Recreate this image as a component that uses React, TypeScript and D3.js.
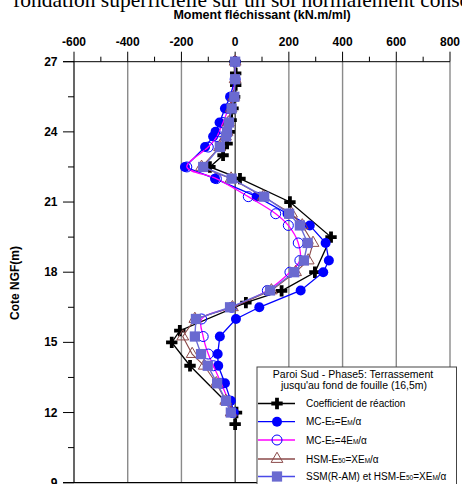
import React, { useEffect, useRef } from 'react';
import * as d3 from 'd3';

// x ticks (bending moment, kN.m/ml) and y ticks (elevation NGF, m)
const xTicks = [-600, -400, -200, 0, 200, 400, 600, 800];
const xMinor = [-500, -300, -100, 100, 300, 500, 700];
const yTicks = [27, 24, 21, 18, 15, 12, 9];
const yMinor = [25.5, 22.5, 19.5, 16.5, 13.5, 10.5];

// Coefficient de réaction
const coefDepth = [27, 26.5, 26, 25.5, 25, 24.5, 24, 23.5, 23, 22.5, 22, 21, 19.5, 18, 17.2, 16.7, 15.5, 15, 14, 12, 11.5];
const coefMoment = [0, 2, 2, -2, -8, -15, -22, -30, -45, -94, 18, 204, 357, 297, 173, 40, -206, -236, -168, 5, 0];

// depths shared by the finite element runs
const feDepth = [27, 26.25, 25.5, 25, 24.4, 24, 23.8, 23.35, 22.5, 22, 21.23, 20.5, 20, 19.25, 18.5, 18, 17.22, 16.5, 16, 15.25, 14.5, 14, 13.25, 12.5, 12];
const mcMoment = [0, 0, -19, -38, -58, -73, -82, -112, -187, -75, 80, 195, 278, 337, 349, 328, 244, 90, 3, -57, -65, -63, -38, -16, -5];
const mc4Moment = [0, 0, -10, -25, -45, -60, -68, -100, -180, -70, 49, 151, 198, 235, 241, 204, 120, -13, -125, -119, -100, -81, -52, -25, -10];
const hsmMoment = [0, 0, -5, -15, -25, -30, -36, -58, -125, -15, 105, 210, 250, 290, 272, 225, 135, -10, -150, -195, -160, -115, -70, -35, -15];
const ssmMoment = [0, 0, -3, -13, -23, -30, -34, -57, -119, -13, 108, 201, 241, 270, 256, 220, 130, -19, -146, -150, -127, -102, -67, -34, -16];

const W = 462, H = 484;

function App() {
  const ref = useRef<SVGSVGElement>(null);

  useEffect(() => {
    const svg = d3.select(ref.current);
    svg.selectAll('*').remove();

    const x = d3.scaleLinear().domain([-600, 800]).range([74, 450]);
    const y = d3.scaleLinear().domain([9, 27]).range([482.7, 61.7]);
    const sans = 'Liberation Sans, Arial, sans-serif';

    // cropped line of the surrounding document
    svg.append('text')
      .attr('x', 13).attr('y', 7)
      .style('font-family', 'Liberation Serif, Times New Roman, serif')
      .style('font-size', '21.5px')
      .text('fondation superficielle sur un sol normalement consolidé');

    svg.append('text')
      .attr('x', 262).attr('y', 18.5)
      .attr('text-anchor', 'middle')
      .style('font-family', sans).style('font-size', '12.5px').style('font-weight', 'bold')
      .text('Moment fléchissant (kN.m/ml)');

    // grid
    svg.append('g').selectAll('line').data(xTicks.filter(d => d !== 0 && d !== -600)).enter()
      .append('line')
      .attr('x1', d => x(d)).attr('x2', d => x(d))
      .attr('y1', y(27)).attr('y2', y(9))
      .style('stroke', '#8a8a8a').style('stroke-width', 1.4);
    svg.append('line')
      .attr('x1', x(0)).attr('x2', x(0)).attr('y1', y(27)).attr('y2', y(9))
      .style('stroke', '#000').style('stroke-width', 1);

    // top axis
    svg.append('line')
      .attr('x1', 63).attr('x2', x(800)).attr('y1', y(27)).attr('y2', y(27))
      .style('stroke', '#000').style('stroke-width', 1);
    svg.append('g').selectAll('line').data(xTicks).enter()
      .append('line')
      .attr('x1', d => x(d)).attr('x2', d => x(d))
      .attr('y1', y(27) - 10).attr('y2', y(27))
      .style('stroke', '#000').style('stroke-width', 1);
    svg.append('g').selectAll('line').data(xMinor).enter()
      .append('line')
      .attr('x1', d => x(d)).attr('x2', d => x(d))
      .attr('y1', y(27) - 5).attr('y2', y(27))
      .style('stroke', '#000').style('stroke-width', 1);
    svg.append('g').selectAll('text').data(xTicks).enter()
      .append('text')
      .attr('x', d => x(d)).attr('y', 45.5)
      .attr('text-anchor', 'middle')
      .style('font-family', sans).style('font-size', '12px').style('font-weight', 'bold')
      .text(d => d);

    // left axis
    svg.append('line')
      .attr('x1', x(-600)).attr('x2', x(-600)).attr('y1', y(27)).attr('y2', y(9))
      .style('stroke', '#000').style('stroke-width', 1.2);
    svg.append('line')
      .attr('x1', 63).attr('x2', x(800)).attr('y1', y(9)).attr('y2', y(9))
      .style('stroke', '#000').style('stroke-width', 1.2);
    svg.append('g').selectAll('line').data(yTicks).enter()
      .append('line')
      .attr('x1', 63).attr('x2', x(-600))
      .attr('y1', d => y(d)).attr('y2', d => y(d))
      .style('stroke', '#000').style('stroke-width', 1);
    svg.append('g').selectAll('line').data(yMinor).enter()
      .append('line')
      .attr('x1', 68).attr('x2', x(-600))
      .attr('y1', d => y(d)).attr('y2', d => y(d))
      .style('stroke', '#000').style('stroke-width', 1);
    svg.append('g').selectAll('text').data(yTicks).enter()
      .append('text')
      .attr('x', 57.5).attr('y', d => y(d) + 4)
      .attr('text-anchor', 'end')
      .style('font-family', sans).style('font-size', '12px').style('font-weight', 'bold')
      .text(d => d);
    svg.append('text')
      .attr('transform', 'translate(19,283) rotate(-90)')
      .attr('text-anchor', 'middle')
      .style('font-family', sans).style('font-size', '12px').style('font-weight', 'bold')
      .text('Cote NGF(m)');

    // series
    const series = [
      { name: 'coef', depth: coefDepth, vals: coefMoment, line: '#000', lw: 1.3, marker: 'plus' },
      { name: 'mc', depth: feDepth, vals: mcMoment, line: '#0000ff', lw: 1.3, marker: 'dot' },
      { name: 'mc4', depth: feDepth, vals: mc4Moment, line: '#ff00ff', lw: 1.3, marker: 'ring' },
      { name: 'hsm', depth: feDepth, vals: hsmMoment, line: '#8b4a4a', lw: 1.1, marker: 'tri' },
      { name: 'ssm', depth: feDepth, vals: ssmMoment, line: '#6a6ad6', lw: 1.4, marker: 'square' },
    ];

    const line = d3.line<[number, number]>()
      .x(d => x(d[1]))
      .y(d => y(d[0]));

    function drawMarker(g: any, kind: string, cx: number, cy: number) {
      if (kind === 'plus') {
        g.append('path').attr('d', d3.symbol().type(d3.symbolCross).size(72)())
          .attr('transform', `translate(${cx},${cy})`).style('fill', '#000');
      } else if (kind === 'dot') {
        g.append('circle').attr('cx', cx).attr('cy', cy).attr('r', 5).style('fill', '#0000ff');
      } else if (kind === 'ring') {
        g.append('circle').attr('cx', cx).attr('cy', cy).attr('r', 5)
          .style('fill', 'none').style('stroke', '#0000ff').style('stroke-width', 1);
      } else if (kind === 'tri') {
        g.append('path').attr('d', d3.symbol().type(d3.symbolTriangle).size(60)())
          .attr('transform', `translate(${cx},${cy})`)
          .style('fill', 'none').style('stroke', '#8b4a4a').style('stroke-width', 1);
      } else {
        g.append('path').attr('d', d3.symbol().type(d3.symbolSquare).size(105)())
          .attr('transform', `translate(${cx},${cy})`).style('fill', '#6a6ad0');
      }
    }

    series.forEach(s => {
      const pts: [number, number][] = s.depth.map((d, i) => [d, s.vals[i]]);
      const g = svg.append('g');
      g.append('path').attr('d', s.name === 'mc4' ? line.curve(d3.curveCatmullRom)(pts) : line.curve(d3.curveLinear)(pts))
        .style('fill', 'none').style('stroke', s.line).style('stroke-width', s.lw);
      pts.forEach(p => drawMarker(g, s.marker, x(p[1]), y(p[0])));
    });

    // legend
    const lg = svg.append('g');
    lg.append('rect').attr('x', 257).attr('y', 367).attr('width', 199.5).attr('height', 125)
      .style('fill', '#fff').style('stroke', '#444').style('stroke-width', 1);
    lg.append('text').attr('x', 353).attr('y', 377.5).attr('text-anchor', 'middle')
      .style('font-family', sans).style('font-size', '10.5px')
      .text('Paroi Sud - Phase5: Terrassement');
    lg.append('text').attr('x', 354).attr('y', 389).attr('text-anchor', 'middle')
      .style('font-family', sans).style('font-size', '10.5px')
      .text("jusqu'au fond de fouille (16,5m)");

    const labels: [string, string, string, string, string][] = [
      ['Coefficient de réaction', '', '', '', ''],
      ['MC-E', 's', '=E', 'M', '/α'],
      ['MC-E', 's', '=4E', 'M', '/α'],
      ['HSM-E', '50', '=XE', 'M', '/α'],
      ['SSM(R-AM) et HSM-E', '50', '=XE', 'M', '/α'],
    ];
    const legendColors = ['#000', '#0000ff', '#ff00ff', '#8b4a4a', '#4a4ae8'];
    const rowY = [403.5, 421.7, 440, 459, 476.5];
    series.forEach((s, i) => {
      const yy = rowY[i];
      lg.append('line').attr('x1', 258).attr('x2', 295).attr('y1', yy).attr('y2', yy)
        .style('stroke', legendColors[i]).style('stroke-width', 1.3);
      drawMarker(lg, s.marker, 277, yy);
      const t = lg.append('text').attr('x', 306).attr('y', yy + 3.5)
        .style('font-family', sans).style('font-size', '10px');
      const parts = labels[i];
      t.append('tspan').text(parts[0]);
      if (parts[1]) {
        t.append('tspan').style('font-size', '6.5px').text(parts[1]);
        t.append('tspan').text(parts[2]);
        t.append('tspan').style('font-size', '6.5px').text(parts[3]);
        t.append('tspan').text(parts[4]);
      }
    });
  }, []);

  return (
    <svg ref={ref} width={W} height={H}
      style={{ position: 'absolute', left: 0, top: 0, background: '#fff' }} />
  );
}

export default App;
